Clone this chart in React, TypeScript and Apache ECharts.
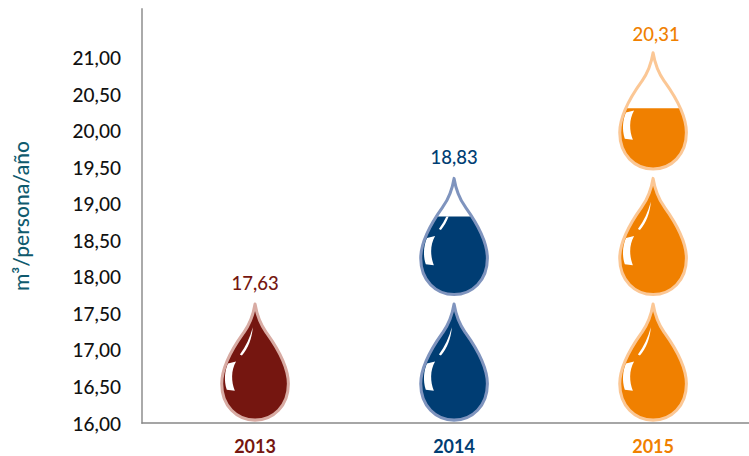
import React, { useEffect, useRef } from "react";
import * as echarts from "echarts";

const years = ["2013", "2014", "2015"];
const values = [17.63, 18.83, 20.31];
const valueLabels = ["17,63", "18,83", "20,31"];
const fillColors = ["#751610", "#003D73", "#F08000"];
const strokeColors = ["#D8ABA3", "#7F94BE", "#FBC795"];
const yTicks = [16, 16.5, 17, 17.5, 18, 18.5, 19, 19.5, 20, 20.5, 21];

const FONT = "Lato";
const DROP_H = 115;
const DROP_BASE = 16.04;
const DROP_SPAN = 1.59;
const DROP_STEP = 1.72;

echarts.graphic.registerShape(
  "waterDrop",
  echarts.graphic.extendPath(
    "M0,0 C2,12 6,21 11,28 C15,33.6 33,58 33,79 C33,101 18,115 0,115 C-18,115 -33,101 -33,79 C-33,58 -15,33.6 -11,28 C-6,21 -2,12 0,0 Z",
    {}
  )
);
echarts.graphic.registerShape(
  "dropShineBig",
  echarts.graphic.extendPath(
    "M-18.8,57 L-26.8,59 C-30,66 -31,76 -28,85 L-20,86 C-23.5,77 -24,66 -18.8,57 Z",
    {}
  )
);
echarts.graphic.registerShape(
  "dropShineThin",
  echarts.graphic.extendPath(
    "M-2.2,23 C-5,33 -9,42 -15,50 L-13,51 C-7,44 -3,34 -2.2,23 Z",
    {}
  )
);

function renderDrops(_params: any, api: any) {
  const i = api.value(0);
  const value = api.value(1);
  const children: any[] = [];
  const cx = api.coord([i, value])[0];
  const levelY = api.coord([i, value])[1];
  for (let k = 0; DROP_BASE + k * DROP_STEP < value; k++) {
    const bottomV = DROP_BASE + k * DROP_STEP;
    const tipY = api.coord([i, bottomV + DROP_SPAN])[1];
    const botY = api.coord([i, bottomV])[1];
    const s = (botY - tipY) / DROP_H;
    const partial = levelY > tipY + 0.5;
    const clipPath = partial
      ? { type: "rect", shape: { x: -50, y: (levelY - tipY) / s, width: 100, height: 200 } }
      : undefined;
    const place = { x: cx, y: tipY, scaleX: s, scaleY: s };
    children.push({ type: "waterDrop", ...place, clipPath, style: { fill: fillColors[i] } });
    children.push({ type: "dropShineBig", ...place, clipPath, style: { fill: "#fff" } });
    children.push({ type: "dropShineThin", ...place, clipPath, style: { fill: "#fff" } });
    children.push({
      type: "waterDrop",
      ...place,
      style: { fill: "none", stroke: strokeColors[i], lineWidth: 3, lineJoin: "round" },
    });
    if (bottomV + DROP_STEP >= value) {
      const gap = i === 2 ? 19 : 21;
      children.push({
        type: "text",
        x: cx + (i === 2 ? 3 : 0),
        y: tipY - gap,
        style: {
          text: valueLabels[i],
          fill: fillColors[i],
          font: `500 18.5px ${FONT}`,
          align: "center",
          verticalAlign: "middle",
        },
      });
    }
  }
  return { type: "group", children };
}

export default function App() {
  const ref = useRef<HTMLDivElement>(null);
  useEffect(() => {
    const chart = echarts.init(ref.current!, null, { renderer: "svg" });
    chart.setOption({
      animation: false,
      backgroundColor: "#fff",
      grid: { left: 142, right: 0, top: 9, bottom: 33 },
      xAxis: {
        type: "value",
        min: -0.568,
        max: 2.482,
        splitLine: { show: false },
        axisTick: { show: false },
        axisLine: { onZero: false, lineStyle: { color: "#888", width: 1.5 } },
        axisLabel: {
          customValues: [0, 1, 2],
          formatter: (v: number) => years[v] ?? "",
          color: (v: any) => fillColors[Number(v)] ?? "#000",
          fontFamily: FONT,
          fontSize: 18,
          fontWeight: 700,
          margin: 14,
        },
      },
      yAxis: {
        type: "value",
        min: 16,
        max: 21.67,
        name: "m³/persona/año",
        nameLocation: "middle",
        nameGap: 111,
        nameTextStyle: { color: "#0F5A6E", fontFamily: FONT, fontSize: 21, fontWeight: 500 },
        splitLine: { show: false },
        axisTick: { show: false },
        axisLine: { show: true, onZero: false, lineStyle: { color: "#AAA", width: 2 } },
        axisLabel: {
          customValues: yTicks,
          formatter: (v: number) => v.toFixed(2).replace(".", ","),
          color: "#111",
          fontFamily: FONT,
          fontSize: 19,
          fontWeight: 500,
          margin: 21,
        },
      },
      series: [
        {
          type: "custom",
          clip: false,
          renderItem: renderDrops,
          encode: { x: 0, y: 1 },
          data: values.map((v, i) => [i, v]),
        },
      ],
    });
    return () => chart.dispose();
  }, []);
  return (
    <div
      ref={ref}
      style={{ position: "fixed", left: 0, top: 0, width: 749, height: 456 }}
    />
  );
}
